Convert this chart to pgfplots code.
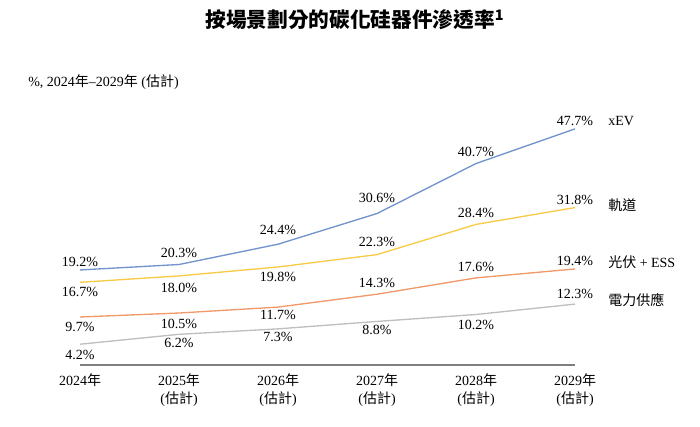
\documentclass[border=0pt]{standalone}
\usepackage{pgfplots}
\pgfplotsset{compat=1.18}
\usepackage{pgfplotstable}
\usepackage{fontspec}
\setmainfont{Liberation Serif}
\newfontfamily\cjk{Noto Sans CJK TC}
\definecolor{cev}{HTML}{7293CB}
\definecolor{crail}{HTML}{F7CB45}
\definecolor{cpv}{HTML}{F09A6A}
\definecolor{cpow}{HTML}{BFBFBF}
\definecolor{axgray}{HTML}{7F7F7F}

% x = year index (0 = 2024), y = %, dy = label offset in px (up positive)
\pgfplotstableread{
x y dy
0 19.2 8
1 20.3 12
2 24.4 14
3 30.6 16
4 40.7 12
5 47.7 8
}\xev
\pgfplotstableread{
x y dy
0 16.7 -10
1 18.0 -12
2 19.8 -10
3 22.3 13
4 28.4 11
5 31.8 8
}\rail
\pgfplotstableread{
x y dy
0 9.7 -10
1 10.5 -11
2 11.7 -8
3 14.3 11
4 17.6 11
5 19.4 8
}\pv
\pgfplotstableread{
x y dy
0 4.2 -11
1 6.2 -9
2 7.3 -8
3 8.8 -9
4 10.2 -10
5 12.3 10
}\power

\begin{document}
\begin{tikzpicture}
\useasboundingbox (0,0) rectangle (525pt,-320.25pt);
\begin{axis}[
    at={(60pt,-273.75pt)}, anchor=south west,
    scale only axis, width=371.25pt, height=185.625pt,
    xmin=0, xmax=5, ymin=0, ymax=50,
    axis x line=bottom, axis y line=none,
    x axis line style={-, draw=axgray, line width=1.2pt},
    xtick={0,...,5}, ytick=\empty, major tick length=0pt,
    xticklabels={
        2024{\cjk 年},
        2025{\cjk 年}\\({\cjk 估計}),
        2026{\cjk 年}\\({\cjk 估計}),
        2027{\cjk 年}\\({\cjk 估計}),
        2028{\cjk 年}\\({\cjk 估計}),
        2029{\cjk 年}\\({\cjk 估計})},
    xticklabel style={align=center, anchor=north, yshift=-3pt,
        font=\fontsize{10.5}{13.5}\selectfont},
    clip=false,
    point meta=explicit symbolic,
    /pgf/number format/assume math mode=true,
    nodes near coords={\pgfmathprintnumber[fixed,fixed zerofill,precision=1]{\pgfkeysvalueof{/data point/y}}\%},
    every node near coord/.append style={anchor=center, text=black,
        font=\fontsize{10.5}{12}\selectfont, yshift=\pgfplotspointmeta*0.75pt},
]
\addplot[cev, line width=1pt] table[x=x,y=y,meta=dy] {\xev};
\addplot[crail, line width=1pt] table[x=x,y=y,meta=dy] {\rail};
\addplot[cpv, line width=1pt] table[x=x,y=y,meta=dy] {\pv};
\addplot[cpow, line width=1pt] table[x=x,y=y,meta=dy] {\power};
\end{axis}
\begin{scope}[x=0.75pt, y=-0.75pt, font=\fontsize{10.5}{12}\selectfont]
\node at (355,20) {\fontsize{15.5}{18}\selectfont\cjk\bfseries 按場景劃分的碳化硅器件滲透率\textsuperscript{1}};
\node[anchor=west, inner sep=0pt] at (28,82) {\%, 2024{\cjk 年}–2029{\cjk 年} ({\cjk 估計})};
\node[anchor=west, inner sep=0pt] at (608,121) {xEV};
\node[anchor=west, inner sep=0pt] at (608,205) {\cjk 軌道};
\node[anchor=west, inner sep=0pt] at (608,262) {{\cjk 光伏} + ESS};
\node[anchor=west, inner sep=0pt] at (608,300) {\cjk 電力供應};
\end{scope}
\end{tikzpicture}
\end{document}
